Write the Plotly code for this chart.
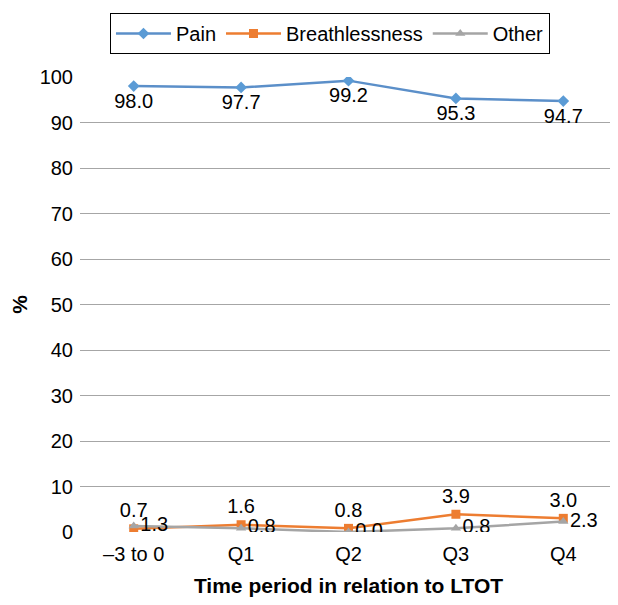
import plotly.graph_objects as go

categories = ["\u20133 to 0", "Q1", "Q2", "Q3", "Q4"]
pain = [98.0, 97.7, 99.2, 95.3, 94.7]
breathlessness = [0.7, 1.6, 0.8, 3.9, 3.0]
other = [1.3, 0.8, 0.0, 0.8, 2.3]
y_ticks = [0, 10, 20, 30, 40, 50, 60, 70, 80, 90, 100]

font = "Liberation Sans, Arial, sans-serif"
fs = 20

fig = go.Figure()
fig.add_trace(go.Scatter(
    x=categories, y=pain, name="Pain", mode="lines+markers+text",
    line=dict(color="#5B8FC9", width=2.5),
    marker=dict(symbol="diamond", size=9, color="#5B9BD5"),
    text=[f"{v:.1f}" for v in pain], textposition="bottom center",
    textfont=dict(size=fs, color="black", family=font),
))
fig.add_trace(go.Scatter(
    x=categories, y=breathlessness, name="Breathlessness", mode="lines+markers+text",
    line=dict(color="#ED7D31", width=2.5),
    marker=dict(symbol="square", size=9, color="#ED7D31"),
    text=[f"{v:.1f}" for v in breathlessness], textposition="top center",
    textfont=dict(size=fs, color="black", family=font),
))
fig.add_trace(go.Scatter(
    x=categories, y=other, name="Other", mode="lines+markers+text",
    line=dict(color="#A5A5A5", width=2.5),
    marker=dict(symbol="triangle-up", size=9, color="#A5A5A5"),
    text=[f"{v:.1f}" for v in other], textposition="middle right",
    textfont=dict(size=fs, color="black", family=font),
))

fig.update_layout(
    width=610, height=597,
    margin=dict(l=72, r=1, t=69, b=73, autoexpand=False),
    plot_bgcolor="white", paper_bgcolor="white",
    font=dict(family=font, size=fs, color="black"),
    showlegend=True,
    legend=dict(orientation="h", x=0.4655, xanchor="center", y=1.1407, yanchor="top",
                bordercolor="black", borderwidth=1, font=dict(size=fs),
                itemwidth=55),
    xaxis=dict(
        title=dict(text="<b>Time period in relation to LTOT</b>", font=dict(size=21), standoff=14),
        range=[-0.5, 4.5],
        showgrid=False, zeroline=False, showline=False,
        ticks="outside", ticklen=4, tickcolor="rgba(0,0,0,0)",
        tickfont=dict(size=fs),
    ),
    yaxis=dict(
        title=dict(text="<b>%</b>", font=dict(size=21), standoff=22),
        range=[0, 100], tickvals=y_ticks, showgrid=True, gridcolor="#A6A6A6", gridwidth=1,
        zeroline=False, showline=False, ticks="outside", ticklen=2, tickcolor="rgba(0,0,0,0)",
        tickfont=dict(size=fs),
    ),
)

fig.write_html("out.html")
